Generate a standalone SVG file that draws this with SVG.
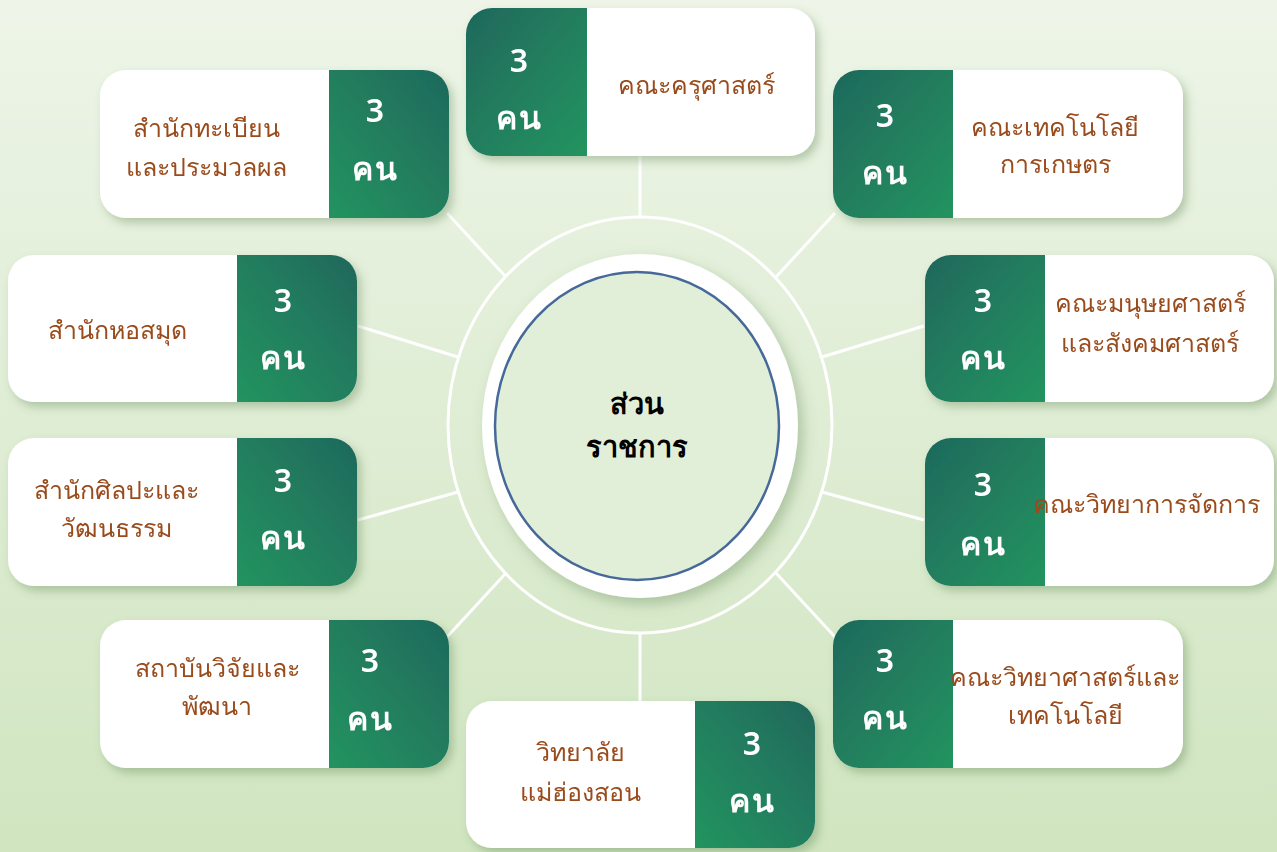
<svg xmlns="http://www.w3.org/2000/svg" width="1277" height="852" viewBox="0 0 1277 852">
<defs>
<linearGradient id="bg" x1="0" y1="0" x2="0" y2="1">
<stop offset="0" stop-color="#eef5e8"/>
<stop offset="1" stop-color="#d0e5c0"/>
</linearGradient>
<linearGradient id="gL" x1="0" y1="0" x2="1" y2="1">
<stop offset="0" stop-color="#1f685c"/>
<stop offset="1" stop-color="#22945f"/>
</linearGradient>
<linearGradient id="gR" x1="1" y1="0" x2="0" y2="1">
<stop offset="0" stop-color="#1f685c"/>
<stop offset="1" stop-color="#22945f"/>
</linearGradient>
<filter id="sh" x="-10%" y="-10%" width="125%" height="130%">
<feDropShadow dx="4" dy="5" stdDeviation="5" flood-color="#4f7a45" flood-opacity="0.35"/>
</filter>
<filter id="csh" x="-15%" y="-15%" width="135%" height="135%">
<feDropShadow dx="5" dy="6" stdDeviation="7" flood-color="#4f7a45" flood-opacity="0.35"/>
</filter>
<style>
.card{fill:#ffffff}
.lbl{font-family:"Noto Sans","Liberation Sans",sans-serif;font-size:25px;fill:#9a4b1c;text-anchor:middle}
.num{font-family:"Noto Sans","Liberation Sans",sans-serif;font-size:32px;font-weight:600;fill:#ffffff;text-anchor:middle}
.kn{letter-spacing:2px}
.ctr{font-family:"Noto Sans","Liberation Sans",sans-serif;font-size:29px;font-weight:bold;fill:#000000;text-anchor:middle}
.con{stroke:#ffffff;stroke-width:3;fill:none}
</style>
</defs>
<rect x="0" y="0" width="1277" height="852" fill="url(#bg)"/>

<g id="connectors">
<ellipse cx="640" cy="425" rx="192" ry="208" class="con"/>
<line x1="640" y1="156" x2="640" y2="217" class="con"/>
<line x1="640" y1="633" x2="640" y2="701" class="con"/>
<line x1="447" y1="213" x2="506" y2="277" class="con"/>
<line x1="835" y1="213" x2="776" y2="277" class="con"/>
<line x1="358" y1="326" x2="458" y2="357" class="con"/>
<line x1="358" y1="520" x2="458" y2="492" class="con"/>
<line x1="924" y1="326" x2="822" y2="357" class="con"/>
<line x1="924" y1="520" x2="822" y2="492" class="con"/>
<line x1="447" y1="637" x2="506" y2="573" class="con"/>
<line x1="835" y1="637" x2="776" y2="573" class="con"/>
</g>

<g id="center">
<ellipse cx="640" cy="426" rx="158" ry="172" fill="#ffffff" filter="url(#csh)"/>
<ellipse cx="637" cy="426" rx="142" ry="154" fill="#e2efd8" stroke="#46699a" stroke-width="2.5"/>
<text class="ctr" x="637" y="414">ส่วน</text>
<text class="ctr" x="637" y="457">ราชการ</text>
</g>

<g id="n1" filter="url(#sh)">
<rect class="card" x="466" y="8" width="349" height="148" rx="26"/>
<path d="M587,8 H492 A26,26 0 0 0 466,34 V130 A26,26 0 0 0 492,156 H587 Z" fill="url(#gL)"/>
<text class="num" x="519" y="72">3</text>
<text class="num kn" x="519" y="129">คน</text>
<text class="lbl" x="696" y="94">คณะครุศาสตร์</text>
</g>

<g id="n2" filter="url(#sh)">
<rect class="card" x="100" y="70" width="349" height="148" rx="26"/>
<path d="M329,70 H423 A26,26 0 0 1 449,96 V192 A26,26 0 0 1 423,218 H329 Z" fill="url(#gR)"/>
<text class="num" x="375" y="122">3</text>
<text class="num kn" x="375" y="180">คน</text>
<text class="lbl" x="206" y="137">สำนักทะเบียน</text>
<text class="lbl" x="206" y="176">และประมวลผล</text>
</g>

<g id="n3" filter="url(#sh)">
<rect class="card" x="833" y="70" width="350" height="148" rx="26"/>
<path d="M953,70 H859 A26,26 0 0 0 833,96 V192 A26,26 0 0 0 859,218 H953 Z" fill="url(#gL)"/>
<text class="num" x="885" y="127">3</text>
<text class="num kn" x="885" y="184">คน</text>
<text class="lbl" x="1055" y="136">คณะเทคโนโลยี</text>
<text class="lbl" x="1055" y="173">การเกษตร</text>
</g>

<g id="n4" filter="url(#sh)">
<rect class="card" x="8" y="255" width="349" height="147" rx="26"/>
<path d="M237,255 H331 A26,26 0 0 1 357,281 V376 A26,26 0 0 1 331,402 H237 Z" fill="url(#gR)"/>
<text class="num" x="283" y="312">3</text>
<text class="num kn" x="283" y="369">คน</text>
<text class="lbl" x="117" y="339">สำนักหอสมุด</text>
</g>

<g id="n5" filter="url(#sh)">
<rect class="card" x="925" y="255" width="349" height="147" rx="26"/>
<path d="M1045,255 H951 A26,26 0 0 0 925,281 V376 A26,26 0 0 0 951,402 H1045 Z" fill="url(#gL)"/>
<text class="num" x="983" y="312">3</text>
<text class="num kn" x="983" y="369">คน</text>
<text class="lbl" x="1150" y="312">คณะมนุษยศาสตร์</text>
<text class="lbl" x="1150" y="352">และสังคมศาสตร์</text>
</g>

<g id="n6" filter="url(#sh)">
<rect class="card" x="8" y="438" width="349" height="148" rx="26"/>
<path d="M237,438 H331 A26,26 0 0 1 357,464 V560 A26,26 0 0 1 331,586 H237 Z" fill="url(#gR)"/>
<text class="num" x="283" y="492">3</text>
<text class="num kn" x="283" y="549">คน</text>
<text class="lbl" x="116" y="499">สำนักศิลปะและ</text>
<text class="lbl" x="116" y="537">วัฒนธรรม</text>
</g>

<g id="n7" filter="url(#sh)">
<rect class="card" x="925" y="438" width="349" height="148" rx="26"/>
<path d="M1045,438 H951 A26,26 0 0 0 925,464 V560 A26,26 0 0 0 951,586 H1045 Z" fill="url(#gL)"/>
<text class="num" x="983" y="496">3</text>
<text class="num kn" x="983" y="555">คน</text>
<text class="lbl" x="1146" y="513">คณะวิทยาการจัดการ</text>
</g>

<g id="n8" filter="url(#sh)">
<rect class="card" x="100" y="620" width="349" height="148" rx="26"/>
<path d="M329,620 H423 A26,26 0 0 1 449,646 V742 A26,26 0 0 1 423,768 H329 Z" fill="url(#gR)"/>
<text class="num" x="370" y="672">3</text>
<text class="num kn" x="370" y="730">คน</text>
<text class="lbl" x="217" y="677">สถาบันวิจัยและ</text>
<text class="lbl" x="217" y="715">พัฒนา</text>
</g>

<g id="n9" filter="url(#sh)">
<rect class="card" x="833" y="620" width="350" height="148" rx="26"/>
<path d="M953,620 H859 A26,26 0 0 0 833,646 V742 A26,26 0 0 0 859,768 H953 Z" fill="url(#gL)"/>
<text class="num" x="885" y="672">3</text>
<text class="num kn" x="885" y="729">คน</text>
<text class="lbl" x="1065" y="686">คณะวิทยาศาสตร์และ</text>
<text class="lbl" x="1065" y="724">เทคโนโลยี</text>
</g>

<g id="n10" filter="url(#sh)">
<rect class="card" x="466" y="701" width="349" height="147" rx="26"/>
<path d="M695,701 H789 A26,26 0 0 1 815,727 V822 A26,26 0 0 1 789,848 H695 Z" fill="url(#gR)"/>
<text class="num" x="752" y="755">3</text>
<text class="num kn" x="752" y="812">คน</text>
<text class="lbl" x="580" y="761">วิทยาลัย</text>
<text class="lbl" x="580" y="801">แม่ฮ่องสอน</text>
</g>
</svg>
